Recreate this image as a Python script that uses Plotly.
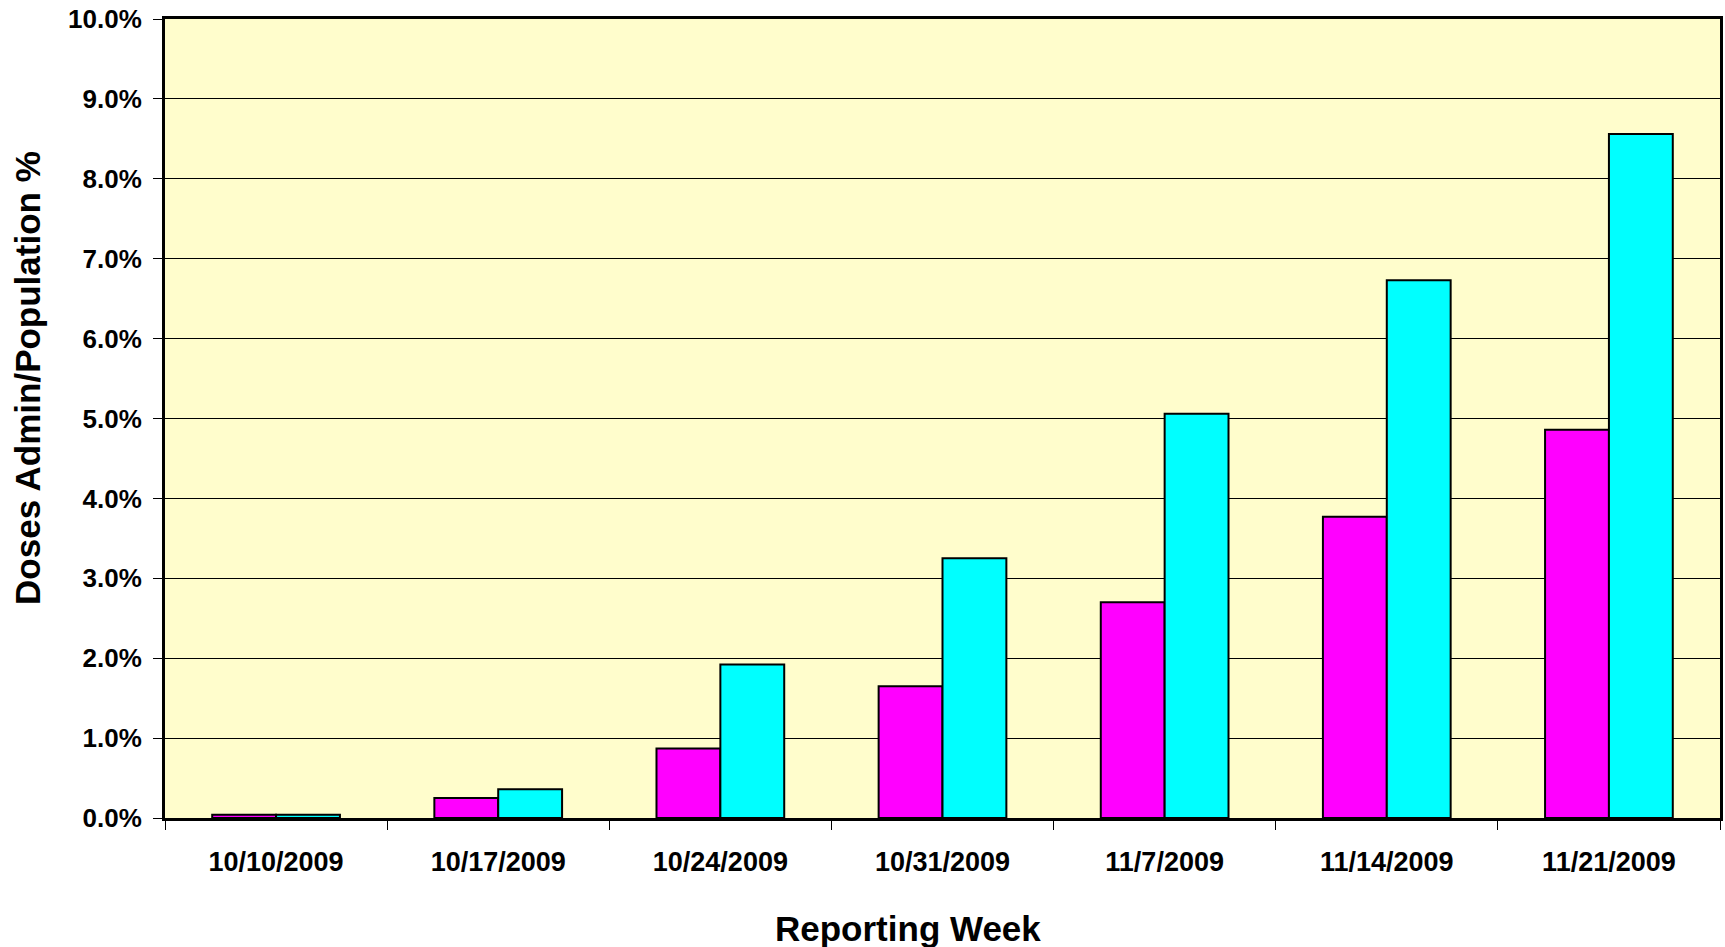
import plotly.graph_objects as go

weeks = ["10/10/2009", "10/17/2009", "10/24/2009", "10/31/2009",
         "11/7/2009", "11/14/2009", "11/21/2009"]
series_magenta = [0.04, 0.25, 0.87, 1.65, 2.70, 3.77, 4.86]
series_cyan = [0.04, 0.36, 1.92, 3.25, 5.06, 6.73, 8.56]

FONT = "Liberation Sans, Arial, sans-serif"

fig = go.Figure()
fig.add_trace(go.Bar(x=weeks, y=series_magenta, name="Series 1",
                     marker=dict(color="#FF00FF", line=dict(color="black", width=2))))
fig.add_trace(go.Bar(x=weeks, y=series_cyan, name="Series 2",
                     marker=dict(color="#00FFFF", line=dict(color="black", width=2))))

fig.update_layout(
    width=1725, height=947,
    margin=dict(l=165, r=2, t=19, b=129),
    paper_bgcolor="white",
    plot_bgcolor="#FFFDCC",
    barmode="group",
    bargap=0.425,
    bargroupgap=0,
    showlegend=False,
    font=dict(family=FONT, color="black"),
)

fig.update_xaxes(
    type="category",
    tickson="boundaries",
    ticks="outside", ticklen=9, tickwidth=1, tickcolor="black",
    showline=True, linecolor="black", linewidth=3, mirror=True,
    showgrid=False,
    tickfont=dict(family=FONT, size=27, weight="bold", color="black"),
    ticklabelstandoff=18,
)
fig.update_yaxes(
    range=[0, 10], dtick=1, tickformat=".1f", ticksuffix="%",
    ticks="outside", ticklen=9, tickwidth=1, tickcolor="black",
    showline=True, linecolor="black", linewidth=3, mirror=True,
    showgrid=True, gridcolor="black", gridwidth=1,
    zeroline=False,
    tickfont=dict(family=FONT, size=26, weight="bold", color="black"),
    ticklabelstandoff=6,
)

fig.add_annotation(text="Reporting Week", xref="paper", yref="paper",
                   x=(909 - 165) / (1722 - 165), y=-(929 - 818.5) / (818.5 - 19),
                   showarrow=False, xanchor="center", yanchor="middle",
                   font=dict(family=FONT, size=35, weight="bold", color="black"))
fig.add_annotation(text="Doses Admin/Population %", xref="paper", yref="paper",
                   x=-(165 - 27.5) / (1722 - 165), y=(818.5 - 378.5) / (818.5 - 19),
                   textangle=-90, showarrow=False, xanchor="center", yanchor="middle",
                   font=dict(family=FONT, size=35, weight="bold", color="black"))

fig.write_html("out.html",
               config={"displayModeBar": False},
               post_script="document.body.style.margin='0';document.body.style.overflow='hidden';")
